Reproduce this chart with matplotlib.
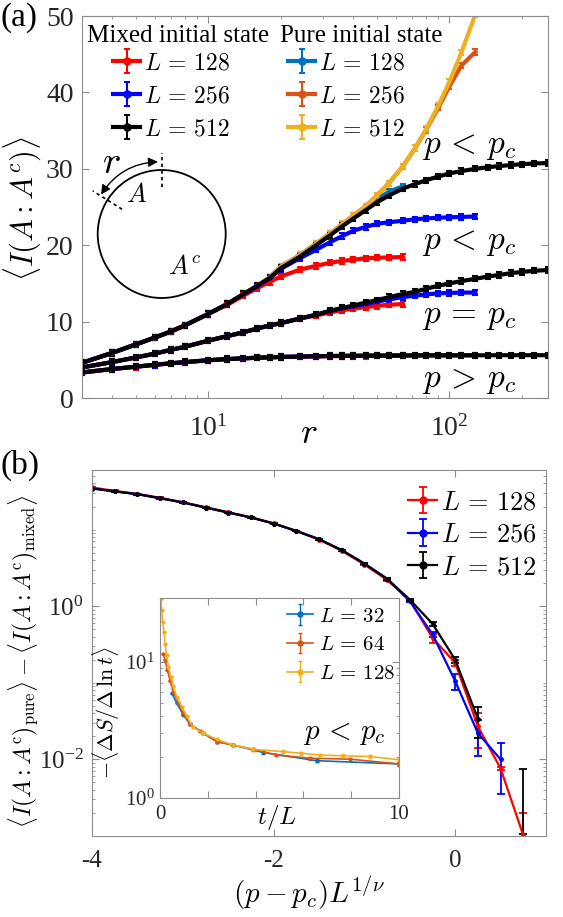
import numpy as np
import matplotlib
matplotlib.use('Agg')
import matplotlib.pyplot as plt
from matplotlib.patches import Circle, FancyArrowPatch
from matplotlib.ticker import FixedLocator, LogLocator, NullFormatter, FixedFormatter

plt.rcParams['font.family'] = ['Liberation Serif', 'DejaVu Serif']
plt.rcParams['mathtext.fontset'] = 'cm'
plt.rcParams['axes.unicode_minus'] = False

# ---------------- panel (a) data ----------------
r_grid = [3, 4, 5, 6, 7, 8, 10, 12, 14, 16, 18, 20, 24, 28, 32, 36, 40, 45, 50, 56,
          64, 72, 80, 90, 100, 112, 128, 144, 160, 180, 200, 224, 256]

# p < pc, pure initial state
pure_128 = [4.6, 5.9, 7.0, 7.9, 8.7, 9.5, 11.0, 12.3, 13.6, 14.7, 15.8, 17.2, 18.7, 20.2,
            21.5, 22.7, 23.8, 24.9, 26.0, 27.0, 27.7]
pure_256 = [4.6, 5.9, 7.0, 7.9, 8.7, 9.5, 11.0, 12.3, 13.6, 14.7, 15.8, 17.2, 18.7, 20.2,
            21.5, 22.8, 23.9, 25.1, 26.5, 28.1, 30.3, 32.7, 35.1, 38.0, 40.8, 43.5, 45.3]
pure_512 = [4.6, 5.9, 7.0, 7.9, 8.7, 9.5, 11.0, 12.3, 13.6, 14.7, 15.8, 17.2, 18.7, 20.2,
            21.5, 22.8, 23.9, 25.1, 26.5, 28.1, 30.3, 32.7, 35.2, 38.3, 41.4, 45.2, 50.2, 55.0]

# p < pc, mixed initial state
mix_lo_128 = [4.6, 5.9, 7.0, 7.9, 8.7, 9.5, 11.0, 12.2, 13.4, 14.4, 15.2, 15.9, 16.8, 17.3,
              17.7, 17.95, 18.1, 18.3, 18.35, 18.4, 18.45]
mix_lo_256 = [4.6, 5.9, 7.0, 7.9, 8.7, 9.5, 11.0, 12.3, 13.6, 14.6, 15.7, 16.9, 18.3, 19.4,
              20.4, 21.2, 21.9, 22.4, 22.8, 23.0, 23.2, 23.4, 23.5, 23.6, 23.65, 23.7, 23.75]
mix_lo_512 = [4.6, 5.9, 7.0, 7.9, 8.7, 9.5, 11.0, 12.3, 13.6, 14.7, 15.7, 17.0, 18.5, 20.0,
              21.3, 22.5, 23.5, 24.6, 25.6, 26.5, 27.4, 28.0, 28.5, 29.0, 29.4, 29.7, 30.0,
              30.2, 30.35, 30.5, 30.6, 30.7, 30.75]

# p = pc, mixed initial state
mix_c_128 = [4.0, 4.7, 5.3, 5.8, 6.3, 6.7, 7.5, 8.1, 8.6, 9.1, 9.5, 9.8, 10.4, 10.8, 11.2,
             11.5, 11.7, 11.9, 12.05, 12.2, 12.3]
mix_c_256 = [4.0, 4.7, 5.3, 5.8, 6.3, 6.7, 7.5, 8.1, 8.6, 9.1, 9.5, 9.8, 10.4, 10.9, 11.4,
             11.75, 12.0, 12.3, 12.6, 12.9, 13.2, 13.4, 13.55, 13.7, 13.75, 13.8, 13.8]
mix_c_512 = [4.0, 4.7, 5.3, 5.8, 6.3, 6.7, 7.5, 8.1, 8.6, 9.1, 9.5, 9.8, 10.4, 10.9, 11.4,
             11.8, 12.1, 12.5, 12.8, 13.2, 13.6, 13.9, 14.3, 14.7, 15.0, 15.3, 15.6, 15.9,
             16.1, 16.35, 16.5, 16.65, 16.75]

# p > pc, mixed initial state
mix_hi_128 = [3.33, 3.78, 4.08, 4.33, 4.53, 4.68, 4.93, 5.08, 5.18, 5.26, 5.31, 5.36, 5.41,
              5.45, 5.48, 5.5, 5.51, 5.52, 5.53, 5.54, 5.55]
mix_hi_256 = [3.34, 3.79, 4.09, 4.34, 4.54, 4.69, 4.94, 5.09, 5.19, 5.27, 5.32, 5.37, 5.42,
              5.46, 5.49, 5.51, 5.52, 5.53, 5.54, 5.55, 5.56, 5.57, 5.57, 5.58, 5.58, 5.58, 5.59]
mix_hi_512 = [3.35, 3.8, 4.1, 4.35, 4.55, 4.7, 4.95, 5.1, 5.2, 5.28, 5.33, 5.38, 5.43, 5.47,
              5.5, 5.52, 5.53, 5.54, 5.55, 5.56, 5.57, 5.57, 5.58, 5.58, 5.58, 5.59, 5.59,
              5.59, 5.6, 5.6, 5.6, 5.6, 5.6]

# ---------------- panel (b) data ----------------
xs_b = [-4, -3.75, -3.5, -3.25, -3, -2.75, -2.5, -2.25, -2, -1.75, -1.5, -1.25, -1,
        -0.75, -0.5, -0.25, 0, 0.25, 0.5, 0.75]
diff_128 = [35.5, 32.0, 29.3, 26.0, 22.8, 19.6, 16.9, 14.5, 12.1, 9.6, 7.4, 5.3, 3.5,
            2.2, 1.2, 0.385, 0.182, 0.027, 0.0076, 0.00102]
err_128 = [0.4, 0.4, 0.3, 0.3, 0.3, 0.2, 0.2, 0.2, 0.15, 0.12, 0.1, 0.08, 0.06,
           0.05, 0.04, 0.05, 0.015, 0.013, 0.0003, 0.001]
diff_256 = [34.6, 31.6, 29.0, 25.7, 22.6, 19.4, 16.7, 14.4, 12.0, 9.6, 7.5, 5.4, 3.6,
            2.28, 1.16, 0.43, 0.105, 0.022, 0.010]
err_256 = [0.4, 0.4, 0.3, 0.3, 0.3, 0.2, 0.2, 0.2, 0.15, 0.12, 0.1, 0.08, 0.06,
           0.05, 0.04, 0.03, 0.025, 0.011, 0.0065]
diff_512 = [34.4, 31.5, 29.0, 25.7, 22.6, 19.4, 16.7, 14.4, 12.0, 9.6, 7.5, 5.4, 3.6,
            2.28, 1.22, 0.59, 0.20, 0.034]
err_512 = [0.4, 0.4, 0.3, 0.3, 0.3, 0.2, 0.2, 0.2, 0.15, 0.12, 0.1, 0.08, 0.06,
           0.05, 0.04, 0.04, 0.02, 0.015]
tail_512_x = [0.75]
tail_512_lo = [0.00107]
tail_512_hi = [0.0074]

# inset of (b)
tL_32 = [0.49, 0.70, 0.97, 1.25, 1.81, 2.37, 3.06, 4.32, 6.55, 10.0]
rate_32 = [5.9, 5.0, 4.1, 3.5, 3.0, 2.6, 2.45, 2.16, 1.88, 1.78]
tL_64 = [0.14, 0.21, 0.31, 0.42, 0.56, 0.77, 0.97, 1.25, 1.67, 2.37, 3.06, 3.90, 4.87,
         6.27, 7.94, 10.0]
rate_64 = [11.5, 10.3, 8.7, 7.3, 6.0, 5.0, 4.2, 3.5, 3.1, 2.6, 2.45, 2.28, 2.07, 1.96,
           1.93, 1.78]
tL_128 = [0.04, 0.07, 0.11, 0.17, 0.21, 0.28, 0.35, 0.45, 0.56, 0.70, 0.91, 1.11, 1.39,
          1.81, 2.37, 3.06, 3.90, 5.15, 5.92, 6.69, 7.66, 8.77, 10.0]
rate_128 = [29.0, 23.9, 19.6, 16.6, 13.6, 11.2, 9.2, 7.8, 6.6, 5.5, 4.7, 4.0, 3.3, 3.0,
            2.7, 2.45, 2.28, 2.19, 2.13, 2.07, 2.04, 2.02, 1.91]

RED, BLUE, BLACK = '#FF0000', '#0000FF', '#000000'
M_BLUE, M_ORANGE, M_YELLOW = '#0072BD', '#D95319', '#EDB120'
GRAY = '#8c8c8c'
TXT = '#262626'

W, H = 563, 917
fig = plt.figure(figsize=(W / 100, H / 100), dpi=100)


def box(l, t, r, b):
    return [l / W, 1 - b / H, (r - l) / W, (b - t) / H]


def style(ax, size, pad_x, pad_y):
    for s in ax.spines.values():
        s.set_color(GRAY)
        s.set_linewidth(0.8)
    ax.tick_params(which='both', direction='in', top=True, right=True, color=GRAY,
                   labelcolor=TXT, labelsize=size)
    ax.tick_params(which='major', length=5)
    ax.tick_params(which='minor', length=2.5)
    ax.tick_params(axis='x', pad=pad_x)
    ax.tick_params(axis='y', pad=pad_y)


# ---------------- panel (a) ----------------
ax1 = fig.add_axes(box(82, 16, 548, 398))
kw_a = dict(marker='o', ms=1.7, lw=3.0, capsize=2.5, elinewidth=1.5, capthick=1.5)
h_p128 = ax1.errorbar(r_grid[:21], pure_128, yerr=0.35, color=M_BLUE, **kw_a)
h_p256 = ax1.errorbar(r_grid[:27], pure_256, yerr=0.35, color=M_ORANGE, **kw_a)
h_p512 = ax1.errorbar(r_grid[:28], pure_512, yerr=0.35, color=M_YELLOW, **kw_a)
for ys128, ys256, ys512 in [(mix_lo_128, mix_lo_256, mix_lo_512),
                            (mix_c_128, mix_c_256, mix_c_512),
                            (mix_hi_128, mix_hi_256, mix_hi_512)]:
    h_m128 = ax1.errorbar(r_grid[:21], ys128, yerr=0.35, color=RED, **kw_a)
    h_m256 = ax1.errorbar(r_grid[:27], ys256, yerr=0.35, color=BLUE, **kw_a)
    h_m512 = ax1.errorbar(r_grid, ys512, yerr=0.35, color=BLACK, **kw_a)

ax1.set_xscale('log')
ax1.set_xlim(3, 256)
ax1.set_ylim(0, 50)
ax1.xaxis.set_major_locator(FixedLocator([10, 100]))
ax1.xaxis.set_major_formatter(FixedFormatter([r'$\mathregular{10^{1}}$', r'$\mathregular{10^{2}}$']))
ax1.xaxis.set_minor_locator(LogLocator(base=10, subs=np.arange(2, 10), numticks=20))
ax1.xaxis.set_minor_formatter(NullFormatter())
ax1.set_yticks([0, 10, 20, 30, 40, 50])
style(ax1, 20, 12, 6)
ax1.set_xlabel(r'$r$', fontsize=26)
ax1.xaxis.set_label_coords(0.487, -0.095)
ax1.xaxis.label.set_va('center')
ax1.set_ylabel(r'$\langle I(A:A^c)\rangle$', fontsize=22)
ax1.yaxis.set_label_coords(-0.128, 0.495)
ax1.yaxis.label.set_va('center')

for yv, s in [(32.9, r'$p\,<\,p_c$'), (20.3, r'$p\,<\,p_c$'), (10.6, r'$p\,=\,p_c$'),
              (2.2, r'$p\,>\,p_c$')]:
    ax1.text(77, yv, s, fontsize=24, va='center', ha='left')

fig.text(87 / W, 1 - 42 / H, 'Mixed initial state', fontsize=18, va='baseline', ha='left')
fig.text(280 / W, 1 - 42 / H, 'Pure initial state', fontsize=18, va='baseline', ha='left')
leg_kw = dict(loc='upper left', bbox_transform=fig.transFigure, frameon=False, fontsize=17,
              handlelength=1.15, handletextpad=0.15, labelspacing=0.48, borderpad=0,
              borderaxespad=0, markerscale=3)
labs = [r'$L\,=\,128$', r'$L\,=\,256$', r'$L\,=\,512$']
leg1 = ax1.legend([h_m128, h_m256, h_m512], labs, bbox_to_anchor=(113 / W, 1 - 53 / H), **leg_kw)
ax1.add_artist(leg1)
leg2 = ax1.legend([h_p128, h_p256, h_p512], labs, bbox_to_anchor=(288 / W, 1 - 53 / H), **leg_kw)

# schematic circle
R = 64.0
cx, cy = 161.7, 234.0
hs = 1.45 * R
axc = fig.add_axes(box(cx - hs, cy - hs, cx + hs, cy + hs))
axc.set_xlim(-1.45, 1.45)
axc.set_ylim(-1.45, 1.45)
axc.set_aspect('equal')
axc.axis('off')
axc.add_patch(Circle((0, 0), 1, fill=False, lw=1.3, color='k'))
for ang in [90, 148]:
    t = np.deg2rad(ang)
    axc.plot([0.73 * np.cos(t), 1.27 * np.cos(t)], [0.73 * np.sin(t), 1.27 * np.sin(t)],
             color='k', lw=1.2, ls=(0, (2, 2)))
ta, tb = np.deg2rad(93), np.deg2rad(147)
arc = FancyArrowPatch((1.13 * np.cos(ta), 1.13 * np.sin(ta)), (1.13 * np.cos(tb), 1.13 * np.sin(tb)),
                      arrowstyle='<|-|>', mutation_scale=14, lw=1.0, color='k',
                      connectionstyle='arc3,rad=0.255', shrinkA=0, shrinkB=0)
axc.add_patch(arc)
axc.text(-0.78, 1.10, r'$r$', fontsize=28, ha='center', va='center')
axc.text(-0.39, 0.61, r'$A$', fontsize=19, ha='center', va='center')
axc.text(0.36, -0.51, r'$A^c$', fontsize=19, ha='center', va='center')

# ---------------- panel (b) ----------------
ax2 = fig.add_axes(box(92, 470, 546, 836))
kw_b = dict(marker='o', ms=2.5, lw=1.6, capsize=3, elinewidth=1.3, capthick=1.3)
h_b128 = ax2.errorbar(xs_b, diff_128, yerr=err_128, color=RED, **kw_b)
h_b256 = ax2.errorbar(xs_b[:19], diff_256, yerr=err_256, color=BLUE, **kw_b)
h_b512 = ax2.errorbar(xs_b[:18], diff_512, yerr=err_512, color=BLACK, **kw_b)
ax2.vlines(tail_512_x, tail_512_lo, tail_512_hi, color=BLACK, lw=1.3)
ax2.plot(tail_512_x * 2, tail_512_lo + tail_512_hi, ls='none', marker='_', ms=6, mew=1.3,
         color=BLACK)
ax2.set_yscale('log')
ax2.set_xlim(-4, 1)
ax2.set_ylim(1e-3, 60)
ax2.set_xticks([-4, -2, 0])
ax2.set_xticklabels(['-4', '-2', '0'])
ax2.yaxis.set_major_locator(FixedLocator([1e-2, 1e0]))
ax2.yaxis.set_major_formatter(FixedFormatter([r'$\mathregular{10^{-2}}$', r'$\mathregular{10^{0}}$']))
ax2.yaxis.set_minor_locator(LogLocator(base=10, subs=np.arange(1, 10), numticks=30))
ax2.yaxis.set_minor_formatter(NullFormatter())
style(ax2, 18, 10, 6)
ax2.set_xlabel(r'$(p-p_c)L^{1/\nu}$', fontsize=21)
ax2.xaxis.set_label_coords(0.478, -0.155)
ax2.xaxis.label.set_va('center')
ax2.set_ylabel(r'$\langle I(A:A^{\rm c})_{\rm pure}\rangle - \langle I(A:A^{\rm c})_{\rm mixed}\rangle$',
               fontsize=17)
ax2.yaxis.set_label_coords(-0.15, 0.478)
ax2.yaxis.label.set_va('center')
ax2.legend([h_b128, h_b256, h_b512], labs, loc='upper left', bbox_to_anchor=(408 / W, 1 - 491 / H),
           bbox_transform=fig.transFigure, frameon=False, fontsize=19, handlelength=1.1,
           handletextpad=0.15, labelspacing=0.34, borderpad=0, borderaxespad=0, markerscale=2)

# inset
ax3 = fig.add_axes(box(160, 598, 399, 798))
kw_i = dict(marker='o', ms=1.8, lw=1.2, capsize=1.5, elinewidth=1.0, capthick=1.0)
h_i32 = ax3.errorbar(tL_32, rate_32, yerr=0.05, color=M_BLUE, **kw_i)
h_i64 = ax3.errorbar(tL_64, rate_64, yerr=0.05, color=M_ORANGE, **kw_i)
h_i128 = ax3.errorbar(tL_128, rate_128, yerr=0.05, color=M_YELLOW, **kw_i)
ax3.set_yscale('log')
ax3.set_xlim(0, 10)
ax3.set_ylim(1, 29.5)
ax3.set_xticks([0, 2, 4, 6, 8, 10])
ax3.set_xticklabels(['0', '', '', '', '', '10'])
ax3.yaxis.set_major_locator(FixedLocator([1, 10]))
ax3.yaxis.set_major_formatter(FixedFormatter([r'$\mathregular{10^{0}}$', r'$\mathregular{10^{1}}$']))
ax3.yaxis.set_minor_locator(LogLocator(base=10, subs=np.arange(2, 10), numticks=20))
ax3.yaxis.set_minor_formatter(NullFormatter())
style(ax3, 15, 5, 4)
ax3.set_xlabel(r'$t/L$', fontsize=18)
ax3.xaxis.set_label_coords(0.49, -0.10)
ax3.xaxis.label.set_va('center')
ax3.set_ylabel(r'$-\langle \Delta S/\Delta\,\ln t\rangle$', fontsize=16)
ax3.yaxis.set_label_coords(-0.225, 0.425)
ax3.yaxis.label.set_va('center')
ax3.text(6.0, 3.0, r'$p\,<\,p_c$', fontsize=21, ha='left', va='center')
ax3.legend([h_i32, h_i64, h_i128], [r'$L\,=\,32$', r'$L\,=\,64$', r'$L\,=\,128$'], loc='upper left',
           bbox_to_anchor=(287 / W, 1 - 607 / H), bbox_transform=fig.transFigure, frameon=False,
           fontsize=15, handlelength=1.25, handletextpad=0.3, labelspacing=0.44, borderpad=0,
           borderaxespad=0, markerscale=2)

fig.text(0, 1 - 2 / H, '(a)', fontsize=24, va='top', ha='left')
fig.text(0, 1 - 450 / H, '(b)', fontsize=24, va='top', ha='left')

fig.savefig('out.png', dpi=100)
